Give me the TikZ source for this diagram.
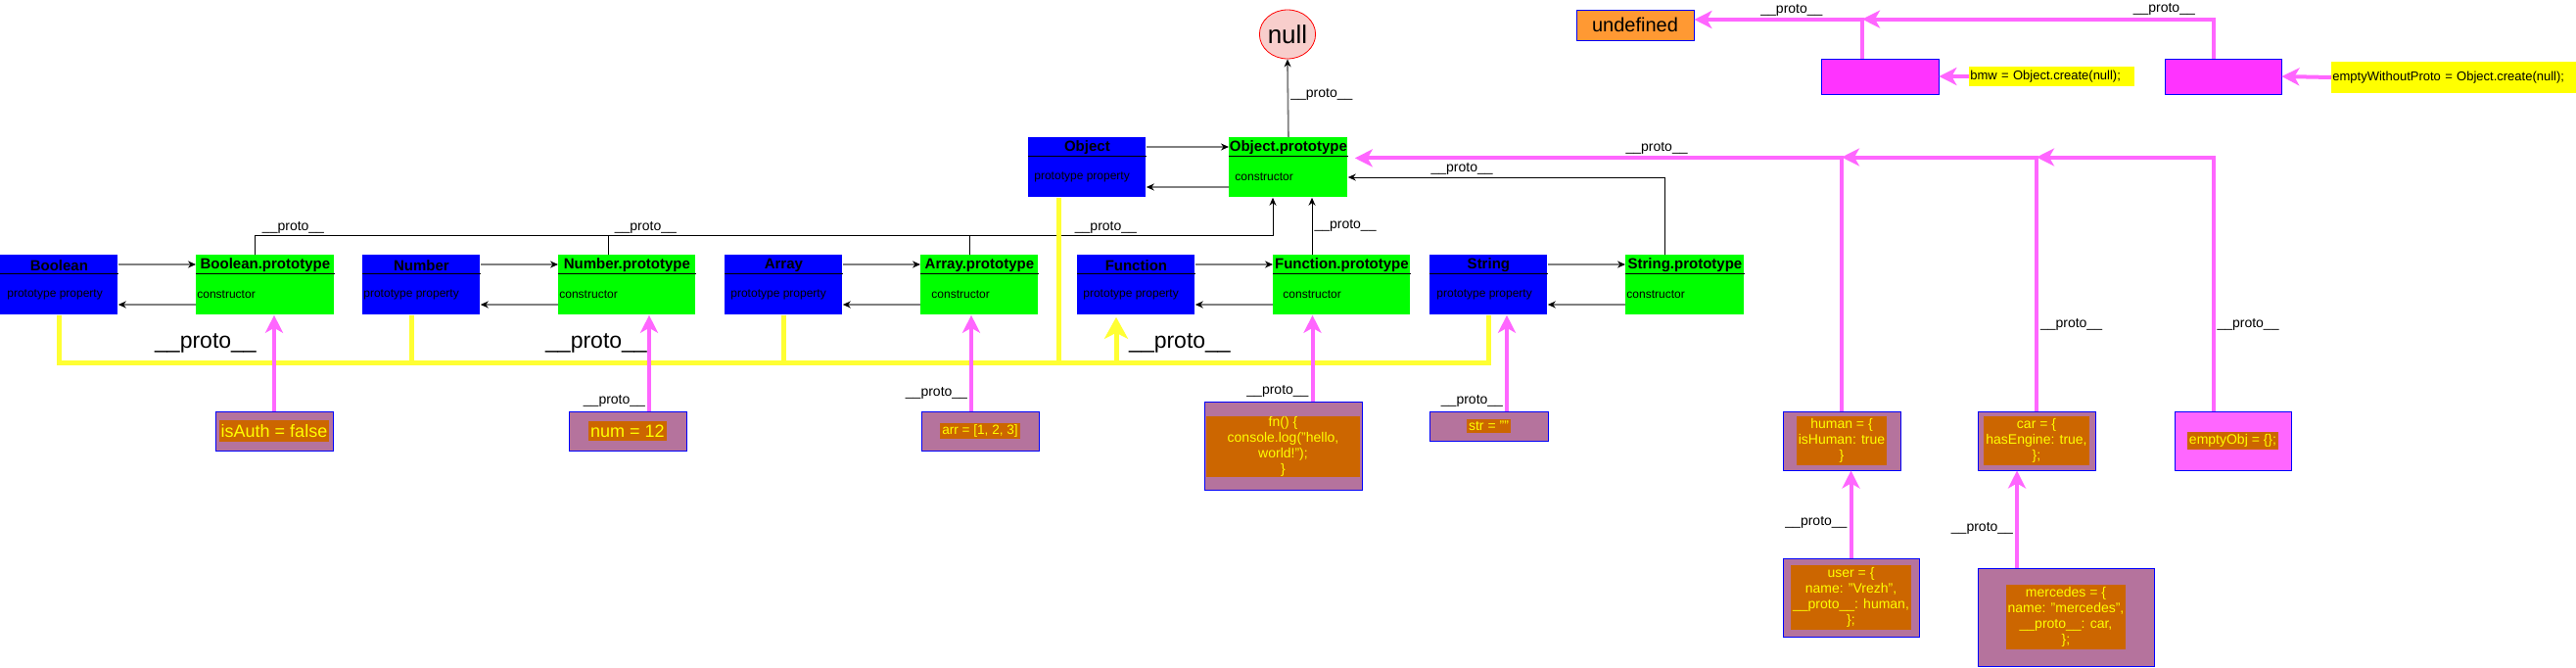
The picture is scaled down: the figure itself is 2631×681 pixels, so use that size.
\documentclass[tikz,border=0pt]{standalone}
\usepackage{fontspec}
\setmainfont{Liberation Sans}
\usetikzlibrary{arrows.meta, calc, shapes.geometric}

\definecolor{ctorblue}{HTML}{0000FF}
\definecolor{protogreen}{HTML}{00FF00}
\definecolor{objpurple}{HTML}{B5739D}
\definecolor{codeorange}{HTML}{CC6600}
\definecolor{codeyellow}{HTML}{FFFF00}
\definecolor{pinkline}{HTML}{FF66FF}
\definecolor{yellowline}{HTML}{FFFF33}
\definecolor{nullfill}{HTML}{F8CECC}
\definecolor{undeforange}{HTML}{FF9933}
\definecolor{magbox}{HTML}{FF33FF}

\newcommand{\protolbl}{\_\_proto\_\_}

\begin{document}
\begin{tikzpicture}[x=0.5pt, y=-0.5pt,
    cbox/.style={fill=ctorblue, minimum width=60pt, minimum height=30.5pt, inner sep=0pt, anchor=north west},
    pbox/.style={fill=protogreen, minimum height=30.5pt, inner sep=0pt, anchor=north west},
    hdr/.style={font=\fontsize{7.5pt}{9pt}\selectfont\bfseries, inner sep=0pt},
    body/.style={font=\fontsize{6pt}{7pt}\selectfont, inner sep=0pt, anchor=west},
    lbl/.style={font=\fontsize{7pt}{8pt}\selectfont, inner sep=1pt},
    bigproto/.style={font=\fontsize{11.5pt}{13pt}\selectfont, inner sep=0pt},
    objbox/.style={draw=ctorblue, fill=objpurple, line width=0.5pt, inner sep=0pt},
    code/.style={fill=codeorange, text=codeyellow, font=\fontsize{7pt}{8pt}\selectfont, align=center, inner xsep=1pt, inner ysep=1pt},
    blk/.style={line width=0.5pt, -{Stealth[length=4pt, width=3.5pt]}},
    garrow/.style={draw=gray, line width=0.9pt, -{Stealth[length=4pt, width=3.5pt, black]}},
    parrow/.style={draw=pinkline, line width=2pt, -{Stealth[length=9pt, width=9pt, inset=2.5pt]}},
    yline/.style={draw=yellowline, line width=2.5pt},
    note/.style={fill=codeyellow, font=\fontsize{6.5pt}{7.5pt}\selectfont, inner xsep=0.5pt, inner ysep=0pt, anchor=west, align=left}]

    \useasboundingbox (0,0) rectangle (2631,681);

    % Constructors and their prototypes
    \foreach \cname/\cx/\px/\pw/\co/\po/\cy in {Boolean/0/200/70.5/7/1/260, Number/370/570/70/1/1/260,
        Array/740/940/60/6/11/260, Function/1100/1300/70/6/10/260, String/1460/1660/60.5/7/1/260,
        Object/1050/1255/60.5/6/6/140} {
        \node[cbox] (\cname) at (\cx,\cy) {};
        \node[hdr] (\cname-h) at ($(\cname.north)+(0,11)$) {\cname};
        \draw ($(\cname.north west)+(0,19.5)$) -- ($(\cname.north east)+(0,19.5)$);
        \node[body] (\cname-b) at ($(\cname.north west)+(\co,41)$) {prototype property};

        \node[pbox, minimum width=\pw pt] (\cname-p) at (\px,\cy) {};
        \node[hdr] (\cname-ph) at ($(\cname-p.north)+(0,11)$) {\cname.prototype};
        \draw ($(\cname-p.north west)+(0,19.5)$) -- ($(\cname-p.north east)+(0,19.5)$);
        \node[body] (\cname-pb) at ($(\cname-p.north west)+(\po,41)$) {constructor};

        \draw[garrow] ($(\cname.north east)+(0,10)$) -- ($(\cname-p.north west)+(0,10)$);
        \draw[garrow] ($(\cname-p.north west)+(0,51)$) -- ($(\cname.north east)+(0,51)$);
    }

    % null
    \node[ellipse, draw=red, fill=nullfill, minimum width=24pt, minimum height=25pt, inner sep=0pt,
        font=\fontsize{13pt}{15pt}\selectfont] (null) at (1315,35) {null};
    \draw[garrow] (Object-p.north) -- (null.south) node[lbl, pos=.55, right] {\protolbl};

    % Prototype chain to Object.prototype
    \draw[blk] ($(Boolean-p.north west)+(60,0)$) |- ($(Object-p.south west)+(45,39)$)
        node[lbl, pos=.519, above] {\protolbl}
        node[lbl, pos=.692, above] {\protolbl}
        node[lbl, pos=.918, above] {\protolbl}
        -- ($(Object-p.south west)+(45,0)$);
    \draw ($(Number-p.north west)+(51,0)$) -- ++(0,-20);
    \draw ($(Array-p.north west)+(50,0)$) -- ++(0,-20);
    \draw[blk] ($(Function-p.north west)+(40,0)$) -- ($(Object-p.south west)+(85,0)$)
        node[lbl, midway, right] {\protolbl};
    \draw[blk] ($(String-p.north west)+(40,0)$) |- ($(Object-p.north east)+(0,41)$)
        node[lbl, pos=.82, above] {\protolbl};

    % Constructors inherit from Function.prototype
    \draw[yline] (Boolean.south) -- ++(0,49) -| (String.south);
    \draw[yline] ($(Number.south)+(-10,0)$) -- ++(0,49);
    \draw[yline] (Array.south) -- ++(0,49);
    \draw[yline] ($(Object.south west)+(31,0)$) -- ++(0,169);
    \draw[yline, -{Stealth[length=11pt, width=12pt, inset=3pt]}] ($(Function.south west)+(40,49)$) -- ($(Function.south west)+(40,2)$);
    \node[bigproto] (yp1) at (210,350) {\protolbl};
    \node[bigproto] (yp2) at (609,350) {\protolbl};
    \node[bigproto] (yp3) at (1205,350) {\protolbl};

    % Primitive values
    \node[objbox, minimum width=60pt, minimum height=20pt] (isauth) at (280,440) {};
    \node[code, inner ysep=2pt, font=\fontsize{9pt}{10pt}\selectfont] (isauth-t) at (isauth) {isAuth = false};
    \draw[parrow] (isauth.north) -- (isauth.north |- Boolean-p.south);

    \node[objbox, minimum width=60pt, minimum height=20pt] (num) at (641,440) {};
    \node[code, inner ysep=2pt, font=\fontsize{9pt}{10pt}\selectfont] (num-t) at (num) {num = 12};
    \coordinate (numtop) at ($(num.north)+(22,0)$);
    \draw[parrow] (numtop) -- (numtop |- Number-p.south)
        node[lbl, at start, anchor=south east] {\protolbl};

    \node[objbox, minimum width=60pt, minimum height=20pt] (arr) at (1001,440) {};
    \node[code, font=\fontsize{6.8pt}{8pt}\selectfont] (arr-t) at (arr) {arr = [1, 2, 3]};
    \coordinate (arrtop) at ($(arr.north)+(-9,0)$);
    \draw[parrow] (arrtop) -- (arrtop |- Array-p.south)
        node[lbl, at start, anchor=south east, yshift=4pt] {\protolbl};

    \node[objbox, minimum width=80.5pt, minimum height=45pt] (fn) at (1310.5,455) {};
    \node[code, minimum width=78.5pt, inner ysep=0pt] (fn-t) at ($(fn)+(0,1)$) {fn() \{\\console.log("hello,\\world!");\\\}};
    \coordinate (fntop) at ($(fn.north)+(30,0)$);
    \draw[parrow] (fntop) -- (fntop |- Function-p.south)
        node[lbl, at start, anchor=south east] {\protolbl};

    \node[objbox, minimum width=60.5pt, minimum height=15pt] (str) at (1520.5,435) {};
    \node[code] (str-t) at (str) {str = ""};
    \coordinate (strtop) at ($(str.north)+(18.5,0)$);
    \draw[parrow] (strtop) -- (strtop |- String.south)
        node[lbl, at start, anchor=south east] {\protolbl};

    % Plain objects
    \node[objbox, minimum width=60pt, minimum height=30pt] (human) at (1881,450) {};
    \node[code] (human-t) at (human) {human = \{\\isHuman: true\\\}};
    \node[objbox, minimum width=60pt, minimum height=30pt] (car) at (2080,450) {};
    \node[code] (car-t) at (car) {car = \{\\hasEngine: true,\\\};};
    \node[objbox, fill=pinkline, minimum width=59.5pt, minimum height=30pt] (emptyobj) at (2280.5,450) {};
    \node[code] (emptyobj-t) at (emptyobj) {emptyObj = \{\};};

    \node[objbox, minimum width=69.5pt, minimum height=40pt] (user) at (1890.5,610) {};
    \node[code] (user-t) at (user) {user = \{\\name: "Vrezh",\\\protolbl: human,\\\};};
    \node[objbox, minimum width=90pt, minimum height=50pt] (mercedes) at (2110,630) {};
    \node[code] (mercedes-t) at (mercedes) {mercedes = \{\\name: "mercedes",\\\protolbl: car,\\\};};

    \draw[parrow] (user.north) -- (user.north |- human.south)
        node[lbl, pos=.4, left] {\protolbl};
    \coordinate (mertop) at ($(mercedes.north)+(-50,0)$);
    \draw[parrow] (mertop) -- (mertop |- car.south)
        node[lbl, pos=.4, left] {\protolbl};

    \coordinate (eotop) at ($(emptyobj.north)+(-20,0)$);
    \draw[parrow] (eotop) |- ($(car.north)+(0,-259)$)
        node[lbl, pos=.17, right] {\protolbl};
    \draw[parrow] (car.north) |- ($(human.north)+(0,-259)$)
        node[lbl, pos=.17, right] {\protolbl};
    \draw[parrow] (human.north) |- ($(Object-p.east)+(7,-9.5)$)
        node[lbl, pos=.69, above] {\protolbl};

    % Objects without prototype
    \node[draw=ctorblue, fill=undeforange, minimum width=60pt, minimum height=15.5pt, inner sep=0pt,
        font=\fontsize{10pt}{12pt}\selectfont] (undef) at (1670,25.5) {undefined};
    \node[draw=ctorblue, fill=magbox, minimum width=60pt, minimum height=18pt, inner sep=0pt] (bmw) at (1920,78) {};
    \node[draw=ctorblue, fill=magbox, minimum width=59.5pt, minimum height=18pt, inner sep=0pt] (ewp) at (2270.5,78) {};
    \node[note, text width=83.5pt, minimum height=10pt] (bmwnote) at (2011,78) {bmw = Object.create(null);};
    \node[note, text width=124pt, minimum height=16pt] (ewpnote) at (2381,79) {emptyWithoutProto = Object.create(null);};
    \draw[parrow] (bmwnote.west) -- (bmw.east);
    \draw[parrow] (ewpnote.west) -- (ewp.east);

    \coordinate (bmwtop) at ($(bmw.north)+(-18,0)$);
    \coordinate (ewptop) at ($(ewp.north)+(-10,0)$);
    \draw[parrow] (ewptop) |- ($(bmwtop)+(0,-40)$)
        node[lbl, pos=.57, above] {\protolbl};
    \draw[parrow] (bmwtop) |- ($(undef.east)+(0,-5.5)$)
        node[lbl, pos=.71, above] {\protolbl};
\end{tikzpicture}
\end{document}
